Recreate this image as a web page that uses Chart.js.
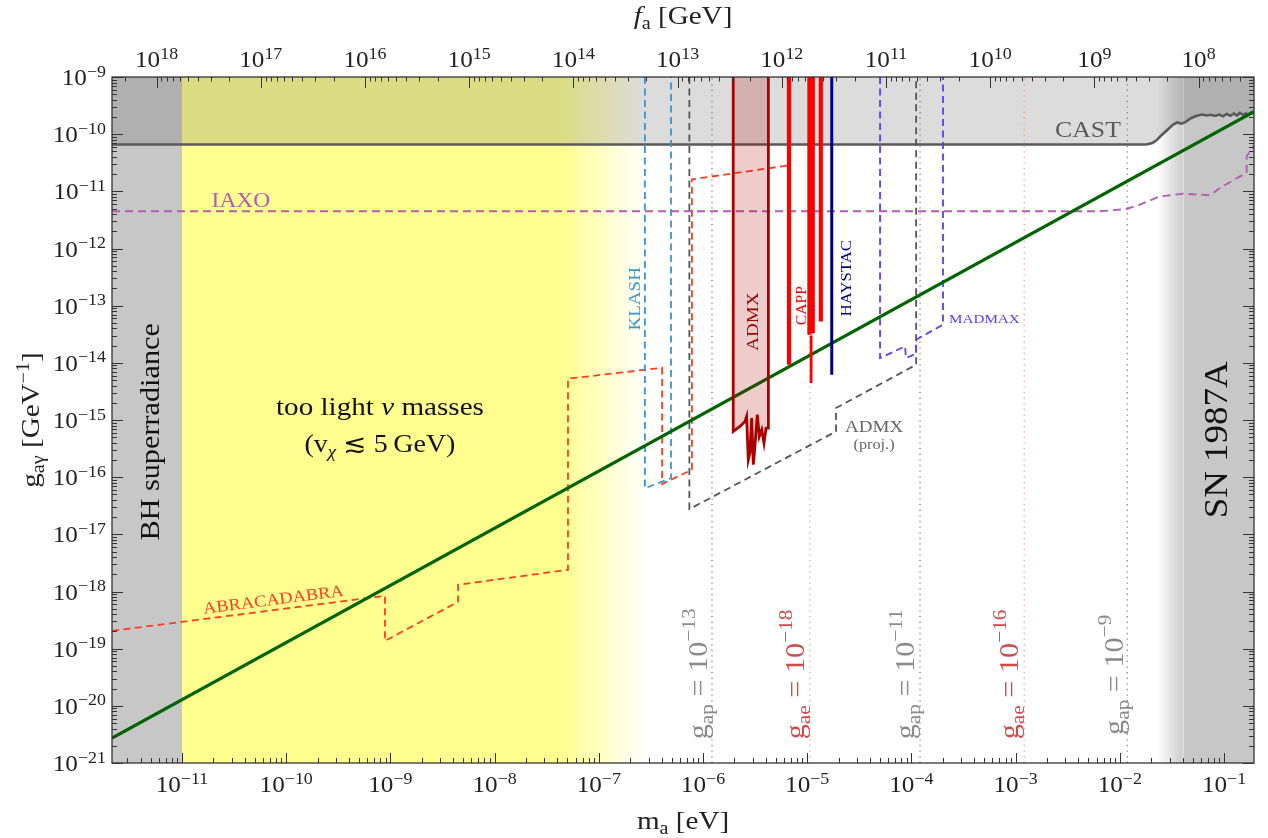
<!DOCTYPE html>
<html><head><meta charset="utf-8">
<script src="https://cdn.jsdelivr.net/npm/chart.js@4.4.1/dist/chart.umd.min.js"></script>
<style>html,body{margin:0;padding:0;background:#fff;}canvas{display:block;}</style>
</head><body>
<canvas id="c" width="1268" height="838"></canvas>
<script>
// ---------------- axis ranges and tick labels ----------------
const massLimits = [2.13e-12, 0.194];          // m_a [eV]
const couplingLimits = [1e-21, 1e-9];          // g_agamma [GeV^-1]
const faPerMass = 5.7e6;                       // f_a [GeV] = 5.7e6 / m_a[eV]
const massTickExponents = [-11,-10,-9,-8,-7,-6,-5,-4,-3,-2,-1];
const couplingTickExponents = [-21,-20,-19,-18,-17,-16,-15,-14,-13,-12,-11,-10,-9];
const faTickExponents = [8,9,10,11,12,13,14,15,16,17,18];

// ---------------- shaded regions (mass edges) ----------------
const bhMass = [2.13e-12, 1e-11];
const yellowMass = [1e-11, 2.77e-7];
const yellowFadeMass = [4.25e-8, 1.1e-7, 2.77e-7];
const snFadeMass = [0.0228, 0.0405];
const snMass = [0.0405, 0.194];

// ---------------- curves ----------------
const qcdMass = [2.13e-12, 0.194];
const qcdCoupling = [2.73e-21, 2.48e-10];

const castMass = [2.13e-12, 0.018, 0.0205, 0.0225, 0.0245, 0.028, 0.0325, 0.0355, 0.039, 0.0425, 0.048, 0.055, 0.062, 0.068, 0.075, 0.082, 0.09, 0.098, 0.106, 0.115, 0.124, 0.133, 0.142, 0.152, 0.162, 0.172, 0.183, 0.194];
const castCoupling = [6.6e-11, 6.6e-11, 7.0e-11, 7.8e-11, 9.2e-11, 1.15e-10, 1.47e-10, 1.6e-10, 1.53e-10, 1.62e-10, 1.9e-10, 2.1e-10, 2.2e-10, 2.12e-10, 2.18e-10, 2.08e-10, 2.2e-10, 2.05e-10, 2.25e-10, 2.1e-10, 2.3e-10, 2.12e-10, 2.35e-10, 2.18e-10, 2.3e-10, 2.2e-10, 2.4e-10, 2.3e-10];

const iaxoMass = [2.13e-12, 0.0064, 0.0116, 0.0156, 0.0242, 0.0284, 0.0403, 0.0589, 0.0735, 0.0916, 0.1426, 0.165, 0.165, 0.194];
const iaxoCoupling = [4.47e-12, 4.47e-12, 4.92e-12, 5.85e-12, 8.17e-12, 8.4e-12, 9.1e-12, 8.74e-12, 8.5e-12, 1.15e-11, 1.83e-11, 2.1e-11, 4.1e-11, 6.3e-11];

const abraMass = [2.13e-12, 8.87e-10, 8.87e-10, 4.46e-9, 4.46e-9, 5.06e-8, 5.06e-8, 4.05e-7, 4.05e-7, 7.83e-7, 7.83e-7, 6.68e-6, 6.68e-6];
const abraCoupling = [2.05e-19, 8.4e-19, 1.37e-19, 6.6e-19, 1.31e-18, 2.4e-18, 5.27e-15, 8.2e-15, 7.6e-17, 1.35e-16, 1.62e-11, 2.85e-11, 1e-9];

const klashMass = [2.77e-7, 2.77e-7, 4.93e-7, 4.93e-7];
const klashCoupling = [1e-9, 6.4e-17, 9.6e-17, 1e-9];

const admxProjMass = [7.4e-7, 7.4e-7, 1.89e-5, 1.89e-5, 1.11e-4, 1.11e-4];
const admxProjCoupling = [1e-9, 2.76e-17, 6.3e-16, 1.62e-15, 9.27e-15, 1e-9];

const madmaxMass = [5.0e-5, 5.0e-5, 8.69e-5, 8.87e-5, 1.11e-4, 1.11e-4, 2.01e-4, 2.01e-4];
const madmaxCoupling = [1e-9, 1.21e-14, 1.94e-14, 1.21e-14, 1.45e-14, 2.54e-14, 4.65e-14, 1e-9];

const admxMass = [1.95e-6, 1.95e-6, 2.26e-6, 2.53e-6, 2.62e-6, 2.72e-6, 2.82e-6, 2.93e-6, 3.04e-6, 3.15e-6, 3.32e-6, 3.47e-6, 3.66e-6, 3.85e-6, 4.03e-6, 4.24e-6, 4.24e-6];
const admxCoupling = [1e-9, 6.3e-16, 7.7e-16, 9.4e-16, 1.15e-15, 2.01e-16, 2.67e-16, 1.08e-15, 1.65e-16, 3.44e-16, 1.24e-15, 5.15e-16, 6.75e-16, 3.95e-16, 7.2e-16, 7.2e-16, 1e-9];

const cappMasses = [6.68e-6, 1.05e-5, 1.13e-5, 1.35e-5];
const cappLowerEnds = [9.3e-15, 3.1e-14, 3.3e-14, 5.31e-14];
const cappThinMass = [1.09e-5, 1.09e-5];
const cappThinCoupling = [3.0e-14, 4.42e-15];
const haystacMass = [1.72e-5, 1.72e-5];
const haystacCoupling = [1e-9, 6.2e-15];

const gapLineMasses = [1.22e-6, 1.21e-4, 1.18e-2];
const gaeLineMasses = [1.06e-5, 1.21e-3];

// ---------------- helpers ----------------
const SERIF = "'Liberation Serif','DejaVu Serif','DejaVu Sans',serif";
const STRETCH = 1.12;
const TOP = couplingLimits[1], BOT = couplingLimits[0];

function pts(xs, ys){ return xs.map((x,i)=>({x:x, y:ys[i]})); }
function lineSet(xs, ys, style){
  return Object.assign({data: pts(xs, ys), pointRadius:0, borderWidth:1.6, fill:false,
    borderColor:'#000', backgroundColor:'rgba(0,0,0,0)', borderCapStyle:'butt', borderJoinStyle:'miter'}, style);
}
function hGradient(chart, stops){
  const xs = chart.scales && chart.scales.x;
  if (!xs || !chart.chartArea) return stops[stops.length-1][1];
  const x0 = xs.getPixelForValue(stops[0][0]);
  const x1 = xs.getPixelForValue(stops[stops.length-1][0]);
  const g = chart.ctx.createLinearGradient(x0, 0, x1, 0);
  stops.forEach(s => g.addColorStop(Math.min(1, Math.max(0, (xs.getPixelForValue(s[0]) - x0)/(x1 - x0))), s[1]));
  return g;
}
function bandSet(xs, color){
  return lineSet(xs, xs.map(()=>TOP), {fill:'start', borderColor:'rgba(0,0,0,0)', borderWidth:0, backgroundColor:color});
}

const YEL = 'rgba(255,255,143,';
const datasets = [
  bandSet(bhMass, '#c7c7c7'),
  bandSet(yellowMass, c => hGradient(c.chart, [[yellowMass[0], YEL+'1)'], [yellowFadeMass[0], YEL+'1)'], [yellowFadeMass[1], YEL+'0.5)'], [yellowFadeMass[2], YEL+'0)']])),
  bandSet(snFadeMass, c => hGradient(c.chart, [[snFadeMass[0], 'rgba(199,199,199,0)'], [snFadeMass[1], 'rgba(199,199,199,0.92)']])),
  bandSet(snMass, '#c7c7c7'),
  lineSet([snMass[0], snMass[0]], [BOT, TOP], {borderColor:'rgba(255,255,255,0.55)', borderWidth:1}),
  lineSet(castMass, castCoupling, {borderColor:'#5a5a5a', borderWidth:2.6, fill:'end', backgroundColor:'rgba(96,96,96,0.22)'}),
];
gapLineMasses.forEach(m => datasets.push(lineSet([m,m],[BOT,TOP],{borderColor:'#8c8c8c', borderWidth:1.3, borderDash:[1.4,4.2]})));
gaeLineMasses.forEach(m => datasets.push(lineSet([m,m],[BOT,TOP],{borderColor:'#f0a4a4', borderWidth:1.3, borderDash:[1.4,4.2]})));
datasets.push(
  lineSet(iaxoMass, iaxoCoupling, {borderColor:'#b45cb4', borderWidth:1.9, borderDash:[8,5]}),
  lineSet(abraMass, abraCoupling, {borderColor:'#ff3d1f', borderWidth:1.8, borderDash:[7,4.5]}),
  lineSet(klashMass, klashCoupling, {borderColor:'#3a94cf', borderWidth:1.8, borderDash:[7,4.5]}),
  lineSet(admxProjMass, admxProjCoupling, {borderColor:'#555555', borderWidth:1.8, borderDash:[7,4.5]}),
  lineSet(madmaxMass, madmaxCoupling, {borderColor:'#5a3cff', borderWidth:1.8, borderDash:[7,4.5]}),
  lineSet(qcdMass, qcdCoupling, {borderColor:'#006400', borderWidth:3.2}),
  lineSet(admxMass, admxCoupling, {borderColor:'#aa0000', borderWidth:2.8, fill:'end', backgroundColor:'rgba(170,0,0,0.2)'})
);
cappMasses.forEach((m,i) => datasets.push(lineSet([m,m],[TOP,cappLowerEnds[i]],{borderColor:'#ff0000', borderWidth:4.2})));
datasets.push(
  lineSet(cappThinMass, cappThinCoupling, {borderColor:'#ff0000', borderWidth:2.8}),
  lineSet(haystacMass, haystacCoupling, {borderColor:'#000080', borderWidth:3})
);
datasets.forEach((d,i) => { d.order = datasets.length - i; });

// ---------------- rich text ----------------
function fontOf(p){ return (p.it ? 'italic ' : '') + p.s + 'px ' + SERIF; }
function richText(ctx, x, y, parts, opt){
  opt = opt || {};
  ctx.save();
  ctx.translate(x, y);
  if (opt.rotate) ctx.rotate(opt.rotate);
  ctx.scale(STRETCH, 1);
  ctx.fillStyle = opt.color || '#111';
  ctx.textBaseline = 'alphabetic';
  ctx.textAlign = 'left';
  let w = 0;
  const ws = parts.map(p => { ctx.font = fontOf(p); const m = ctx.measureText(p.t).width; w += m; return m; });
  let cx = opt.align === 'center' ? -w/2 : (opt.align === 'right' ? -w : 0);
  parts.forEach((p,i) => { ctx.font = fontOf(p); ctx.fillText(p.t, cx, p.dy || 0); cx += ws[i]; });
  ctx.restore();
}
function pow10(e, big, small, rise){
  return [{t:'10', s:big}, {t:(e<0 ? '\u2212' + (-e) : String(e)), s:small, dy:-rise}];
}
function logTickValues(exps){
  const out = [];
  const lo = Math.min.apply(null, exps) - 1, hi = Math.max.apply(null, exps) + 1;
  for (let e = lo; e <= hi; e++) for (let k = 1; k <= 9; k++) out.push({v: k*Math.pow(10,e), major: k === 1});
  return out;
}

const decorations = {
  id: 'decorations',
  afterDatasetsDraw(chart){
    const ctx = chart.ctx, a = chart.chartArea, s = chart.scales;
    const X = v => s.x.getPixelForValue(v), Y = v => s.y.getPixelForValue(v);
    const R = -Math.PI/2;
    // region / experiment labels
    richText(ctx, X(4.95e-3), Y(9.06e-11), [{t:'CAST', s:23}], {align:'center', color:'#5a5a5a'});
    richText(ctx, X(3.68e-11), Y(5.4e-12), [{t:'IAXO', s:21}], {align:'center', color:'#b35ab3'});
    richText(ctx, X(6.0e-12), Y(6.2e-16), [{t:'BH superradiance', s:27}], {align:'center', rotate:R, color:'#111'});
    richText(ctx, X(0.108), Y(4.5e-16), [{t:'SN 1987A', s:33}], {align:'center', rotate:R, color:'#111'});
    richText(ctx, X(7.94e-10), Y(1.24e-15), [{t:'too light ', s:26}, {t:'\u03BD', s:26, it:true}, {t:' masses', s:26}], {align:'center', color:'#111'});
    richText(ctx, X(7.94e-10), Y(2.78e-16), [{t:'(v', s:25}, {t:'\u03C7', s:17, dy:5, it:true}, {t:' \u2272 5\u2009GeV)', s:25}], {align:'center', color:'#111'});
    richText(ctx, X(2.48e-7), Y(1.32e-13), [{t:'KLASH', s:17}], {align:'center', rotate:R, color:'#3a94cf'});
    richText(ctx, X(3.37e-6), Y(5.24e-14), [{t:'ADMX', s:17}], {align:'center', rotate:R, color:'#a00000'});
    richText(ctx, X(9.75e-6), Y(1.0e-13), [{t:'CAPP', s:14}], {align:'center', rotate:R, color:'#ff0000'});
    richText(ctx, X(2.63e-5), Y(3.02e-13), [{t:'HAYSTAC', s:15}], {align:'center', rotate:R, color:'#000080'});
    richText(ctx, X(2.3e-4), Y(5.04e-14), [{t:'MADMAX', s:13.5}], {align:'left', color:'#5a3cff'});
    richText(ctx, X(4.38e-5), Y(6.2e-16), [{t:'ADMX', s:17}], {align:'center', color:'#666'});
    richText(ctx, X(4.38e-5), Y(3.14e-16), [{t:'(proj.)', s:14.5}], {align:'center', color:'#666'});
    richText(ctx, X(7.64e-11), Y(5.86e-19), [{t:'ABRACADABRA', s:16.5}], {align:'center', rotate:-7.3*Math.PI/180, color:'#ff3d1f'});
    // coupling reference labels
    const gl = [[1.1e-6,'ap',-13,'#8a8a8a',2.6e-21],[9.3e-6,'ae',-18,'#d24a4a',2.6e-21],[1.06e-4,'ap',-11,'#8a8a8a',2.6e-21],[1.05e-3,'ae',-16,'#d24a4a',2.6e-21],[1.07e-2,'ap',-9,'#8a8a8a',3.1e-21]];
    gl.forEach(g => {
      richText(ctx, X(g[0]), Y(g[4]), [{t:'g', s:27}, {t:g[1], s:19, dy:6}, {t:' = ', s:27}].concat(pow10(g[2], 27, 19, 12)), {align:'left', rotate:R, color:g[3]});
    });
  },
  afterDraw(chart){
    const ctx = chart.ctx, a = chart.chartArea, s = chart.scales;
    ctx.save();
    ctx.strokeStyle = '#333'; ctx.lineWidth = 1;
    const tick = (x1,y1,x2,y2) => { ctx.beginPath(); ctx.moveTo(x1,y1); ctx.lineTo(x2,y2); ctx.stroke(); };
    logTickValues(massTickExponents).forEach(t => {
      if (t.v < s.x.min || t.v > s.x.max) return;
      const px = Math.round(s.x.getPixelForValue(t.v)) + 0.5;
      tick(px, a.bottom, px, a.bottom - (t.major ? 10 : 5));
    });
    logTickValues(couplingTickExponents).forEach(t => {
      if (t.v < s.y.min*0.999 || t.v > s.y.max*1.001) return;
      const py = Math.round(s.y.getPixelForValue(t.v)) + 0.5;
      tick(a.left, py, a.left + (t.major ? 11 : 5), py);
      tick(a.right, py, a.right - (t.major ? 11 : 5), py);
    });
    logTickValues(faTickExponents).forEach(t => {
      if (t.v < s.x2.min || t.v > s.x2.max) return;
      const px = Math.round(s.x2.getPixelForValue(t.v)) + 0.5;
      tick(px, a.top, px, a.top + (t.major ? 11 : 4.5));
    });
    ctx.lineWidth = 1.3; ctx.strokeStyle = '#333';
    ctx.strokeRect(a.left, a.top, a.right - a.left, a.bottom - a.top);
    ctx.restore();
    // tick labels
    massTickExponents.forEach(e => richText(ctx, s.x.getPixelForValue(Math.pow(10,e)), a.bottom + 29, pow10(e, 22.5, 16, 8.5), {align:'center', color:'#222'}));
    couplingTickExponents.forEach(e => richText(ctx, a.left - 6, s.y.getPixelForValue(Math.pow(10,e)) + 8, pow10(e, 22.5, 16, 8.5), {align:'right', color:'#222'}));
    faTickExponents.forEach(e => richText(ctx, s.x2.getPixelForValue(Math.pow(10,e)), a.top - 10, pow10(e, 22.5, 16, 8.5), {align:'center', color:'#222'}));
    // axis titles
    const cx = (a.left + a.right)/2, cy = (a.top + a.bottom)/2;
    richText(ctx, cx, a.bottom + 66, [{t:'m', s:26}, {t:'a', s:18, dy:5}, {t:' [eV]', s:26}], {align:'center', color:'#222'});
    richText(ctx, cx, a.top - 53, [{t:'f', s:26, it:true}, {t:'a', s:18, dy:5}, {t:' [GeV]', s:26}], {align:'center', color:'#222'});
    richText(ctx, 39, cy, [{t:'g', s:26}, {t:'a\u03B3', s:18, dy:5}, {t:' [GeV', s:26}, {t:'\u22121', s:18, dy:-10}, {t:']', s:26}], {align:'center', rotate:-Math.PI/2, color:'#222'});
  }
};

const hidden = {display:false};
new Chart(document.getElementById('c'), {
  type: 'line',
  data: {datasets: datasets},
  options: {
    responsive: false,
    animation: false,
    events: [],
    layout: {padding: {left:0, right:14, top:0, bottom:0}},
    elements: {point: {radius:0}, line: {tension:0}},
    plugins: {legend: hidden, tooltip: {enabled:false}, title: hidden},
    scales: {
      x: {type:'logarithmic', position:'bottom', min:massLimits[0], max:massLimits[1], bounds:'data',
          grid:hidden, border:hidden, ticks:hidden, afterFit: sc => { sc.height = 75; }},
      x2: {type:'logarithmic', axis:'x', position:'top', reverse:true, bounds:'data',
           min: faPerMass/massLimits[1], max: faPerMass/massLimits[0],
           grid:hidden, border:hidden, ticks:hidden, afterFit: sc => { sc.height = 77; }},
      y: {type:'logarithmic', position:'left', min:couplingLimits[0], max:couplingLimits[1], bounds:'data',
          grid:hidden, border:hidden, ticks:hidden, afterFit: sc => { sc.width = 112; }}
    }
  },
  plugins: [decorations]
});
</script>
</body></html>
